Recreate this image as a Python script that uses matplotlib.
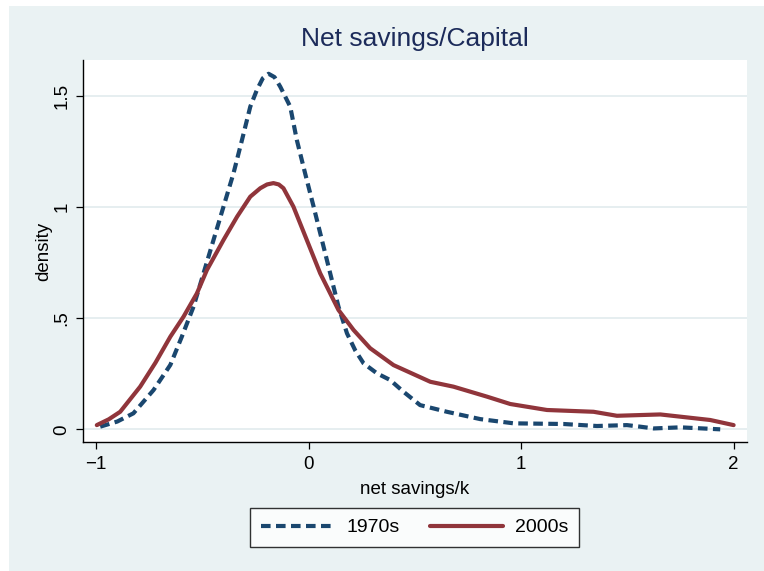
import matplotlib
matplotlib.use("Agg")
import matplotlib.pyplot as plt
from matplotlib.patches import Rectangle

plt.rcParams['font.family'] = ['Liberation Sans', 'DejaVu Sans']

# 1970s density (dashed navy)
x_1970 = [-0.98, -0.90, -0.824, -0.729, -0.65, -0.596, -0.541, -0.494, -0.447, -0.40,
          -0.353, -0.313, -0.274, -0.243, -0.215, -0.188, -0.16, -0.133, -0.086, -0.055,
          -0.016, 0.024, 0.063, 0.102, 0.141, 0.181, 0.22, 0.259, 0.322, 0.384,
          0.447, 0.525, 0.651, 0.808, 0.965, 1.2, 1.357, 1.498, 1.56, 1.624, 1.749, 1.937]
y_1970 = [0.012, 0.035, 0.072, 0.177, 0.29, 0.417, 0.552, 0.702, 0.852, 1.002,
          1.152, 1.302, 1.452, 1.527, 1.58, 1.60, 1.585, 1.542, 1.452, 1.302,
          1.152, 1.002, 0.852, 0.702, 0.552, 0.432, 0.355, 0.297, 0.252, 0.222,
          0.169, 0.109, 0.079, 0.046, 0.027, 0.024, 0.015, 0.019, 0.012, 0.004, 0.009, 0.0]

# 2000s density (solid maroon)
x_2000 = [-0.996, -0.94, -0.886, -0.792, -0.72, -0.65, -0.588, -0.525, -0.478, -0.40,
          -0.336, -0.274, -0.227, -0.195, -0.165, -0.14, -0.118, -0.071, -0.008, 0.055,
          0.102, 0.141, 0.212, 0.29, 0.4, 0.573, 0.682, 0.84, 0.949, 1.122, 1.341,
          1.451, 1.655, 1.89, 2.0]
y_2000 = [0.019, 0.045, 0.079, 0.192, 0.30, 0.417, 0.507, 0.612, 0.717, 0.852,
          0.957, 1.047, 1.085, 1.102, 1.108, 1.102, 1.085, 1.002, 0.852, 0.702,
          0.612, 0.537, 0.447, 0.365, 0.289, 0.214, 0.192, 0.147, 0.114, 0.087, 0.079,
          0.061, 0.067, 0.042, 0.019]

x_ticks = [-1, 0, 1, 2]
x_ticklabels = ['\u22121', '0', '1', '2']
y_ticks = [0, 0.5, 1, 1.5]
y_ticklabels = ['0', '.5', '1', '1.5']

W, H = 764, 571
fig = plt.figure(figsize=(W / 100, H / 100), dpi=100, facecolor='white')
fig.patches.append(Rectangle((9 / W, 0), 1 - 9 / W, 1 - 6 / H, transform=fig.transFigure,
                             facecolor='#EAF2F3', edgecolor='none', zorder=-10))

ax = fig.add_axes([83 / W, 1 - 442 / H, (747 - 83) / W, (442 - 60) / H])
ax.set_facecolor('white')

navy = '#1A476F'
maroon = '#90353B'
lw = 3.0
ax.plot(x_1970, y_1970, color=navy, lw=lw, linestyle=(0, (2.3, 1.3)),
        dash_capstyle='butt', label='1970s', zorder=3)
ax.plot(x_2000, y_2000, color=maroon, lw=lw, solid_capstyle='round',
        solid_joinstyle='round', label='2000s', zorder=3)

ax.set_xlim(-1.061, 2.063)
ax.set_ylim(-0.057, 1.662)
ax.set_xticks(x_ticks)
ax.set_xticklabels(x_ticklabels)
ax.set_yticks(y_ticks)
ax.set_yticklabels(y_ticklabels, rotation=90, va='center')

for v in y_ticks:
    ax.axhline(v, color='#E4EDEF', lw=1.3, zorder=1)

for s in ['top', 'right']:
    ax.spines[s].set_visible(False)
for s in ['left', 'bottom']:
    ax.spines[s].set_color('black')
    ax.spines[s].set_linewidth(1.0)

ax.tick_params(axis='both', length=5, width=0.9, color='black', labelsize=13.5)
ax.tick_params(axis='x', pad=5)
ax.tick_params(axis='y', pad=4)

ax.set_xlabel('net savings/k', fontsize=13.5, labelpad=6)
ax.set_ylabel('density', fontsize=13.5, labelpad=1)

fig.text(415 / W, 1 - 39 / H, 'Net savings/Capital', ha='center', va='center',
         fontsize=19, color='#1C2B5A')

leg = ax.legend(loc='center', bbox_to_anchor=(414.5 / W, 1 - 527.5 / H),
                bbox_transform=fig.transFigure, ncol=2, fontsize=14,
                frameon=True, fancybox=False, edgecolor='black',
                handlelength=3.8, handletextpad=0.6, columnspacing=1.55,
                borderpad=0.55, borderaxespad=0)
leg.get_frame().set_linewidth(1.0)
leg.get_frame().set_facecolor('white')

fig.savefig('out.png', dpi=100, facecolor=fig.get_facecolor())
